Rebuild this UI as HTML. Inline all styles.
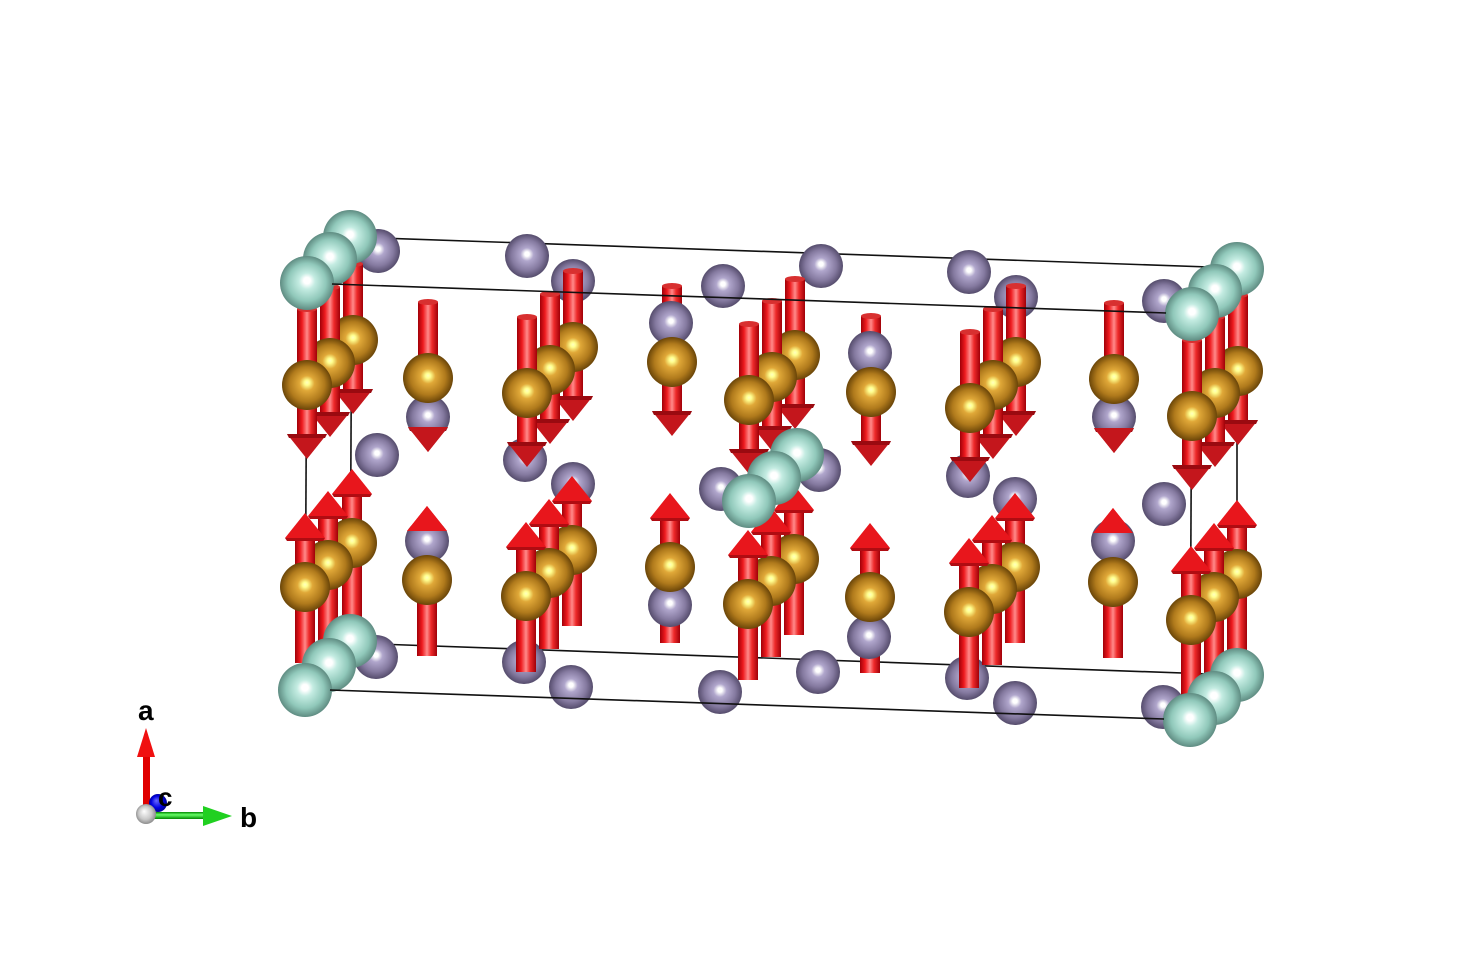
<!DOCTYPE html>
<html><head><meta charset="utf-8"><style>
html,body{margin:0;padding:0;background:#fff;}
svg{display:block;}
text{font-family:"Liberation Sans",sans-serif;font-weight:bold;fill:#000;}
</style></head><body>
<svg width="1462" height="960" viewBox="0 0 1462 960" xmlns="http://www.w3.org/2000/svg">
<defs>
<radialGradient id="gT" cx="0.5" cy="0.5" r="0.5" fx="0.5" fy="0.45">
<stop offset="0" stop-color="#ffffff"/><stop offset="0.12" stop-color="#ffffff"/><stop offset="0.3" stop-color="#c4ece2"/><stop offset="0.7" stop-color="#90c8ba"/><stop offset="1" stop-color="#5f8c82"/></radialGradient>
<radialGradient id="gP" cx="0.5" cy="0.5" r="0.5" fx="0.5" fy="0.45">
<stop offset="0" stop-color="#ffffff"/><stop offset="0.1" stop-color="#ffffff"/><stop offset="0.3" stop-color="#b0a6cc"/><stop offset="0.7" stop-color="#857aa0"/><stop offset="1" stop-color="#554c6c"/></radialGradient>
<radialGradient id="gB" cx="0.5" cy="0.5" r="0.5" fx="0.5" fy="0.45">
<stop offset="0" stop-color="#ffffc0"/><stop offset="0.1" stop-color="#ffff90"/><stop offset="0.3" stop-color="#e0a838"/><stop offset="0.7" stop-color="#b07a1c"/><stop offset="1" stop-color="#6a4508"/></radialGradient>
<radialGradient id="gW" cx="0.5" cy="0.5" r="0.55" fx="0.4" fy="0.36">
<stop offset="0" stop-color="#ffffff"/><stop offset="0.6" stop-color="#c8c8c8"/><stop offset="1" stop-color="#808080"/></radialGradient>
<radialGradient id="gBl" cx="0.5" cy="0.5" r="0.55" fx="0.4" fy="0.36">
<stop offset="0" stop-color="#6a6aff"/><stop offset="0.6" stop-color="#0000e0"/><stop offset="1" stop-color="#000080"/></radialGradient>
<linearGradient id="cyl" x1="0" y1="0" x2="1" y2="0">
<stop offset="0" stop-color="#a00008"/><stop offset="0.25" stop-color="#ee1a1e"/><stop offset="0.5" stop-color="#ff8a8a"/><stop offset="0.7" stop-color="#ee2a2a"/><stop offset="1" stop-color="#a00008"/></linearGradient>
<linearGradient id="cyg" x1="0" y1="0" x2="0" y2="1">
<stop offset="0" stop-color="#008800"/><stop offset="0.4" stop-color="#66ff66"/><stop offset="1" stop-color="#008800"/></linearGradient>
<g id="T"><circle r="27" fill="url(#gT)"/></g>
<g id="P"><circle r="22" fill="url(#gP)"/></g>
<g id="B"><circle r="25" fill="url(#gB)"/></g>
<g id="dn"><rect x="-10" y="-76" width="20" height="126" fill="url(#cyl)"/><ellipse cx="0" cy="-76" rx="10" ry="3" fill="#d83030"/><polygon points="-20,49 20,49 0,74" fill="#c4161c"/><polygon points="-20,49 20,49 18,53 -18,53" fill="#9a0a10"/></g>
<g id="dnh"><polygon points="-20,49 20,49 0,74" fill="#c4161c"/></g>
<g id="up"><rect x="-10" y="-50" width="20" height="126" fill="url(#cyl)"/><polygon points="0,-74 -20,-49 20,-49" fill="#e8161c"/><polygon points="-20,-49 20,-49 18,-46 -18,-46" fill="#b00c12"/></g>
<g id="uph"><polygon points="0,-74 -20,-49 20,-49" fill="#e8161c"/></g>
</defs>

<g stroke="#111" stroke-width="1.6" fill="none">
<line x1="352" y1="237" x2="1237" y2="268"/>
<line x1="350" y1="643" x2="1237" y2="675"/>
<line x1="352" y1="237" x2="350" y2="643"/>
<line x1="1237" y1="268" x2="1237" y2="675"/>
<line x1="307" y1="283" x2="305" y2="690"/>
<line x1="1192" y1="314" x2="1190" y2="720"/>
</g>

<use href="#P" x="378" y="251"/><use href="#P" x="527" y="256"/><use href="#P" x="573" y="281"/><use href="#P" x="723" y="286"/><use href="#P" x="821" y="266"/><use href="#P" x="969" y="272"/><use href="#P" x="1016" y="297"/><use href="#P" x="1164" y="301"/>
<use href="#P" x="377" y="455"/><use href="#P" x="525" y="460"/><use href="#P" x="573" y="484"/><use href="#P" x="721" y="489"/><use href="#P" x="819" y="470"/><use href="#P" x="968" y="476"/><use href="#P" x="1015" y="499"/><use href="#P" x="1164" y="504"/>
<use href="#P" x="376" y="657"/><use href="#P" x="524" y="662"/><use href="#P" x="571" y="687"/><use href="#P" x="720" y="692"/><use href="#P" x="818" y="672"/><use href="#P" x="967" y="678"/><use href="#P" x="1015" y="703"/><use href="#P" x="1163" y="707"/>

<use href="#dn" x="353" y="340"/><use href="#B" x="353" y="340"/><use href="#up" x="352" y="543"/><use href="#B" x="352" y="543"/>
<use href="#dn" x="330" y="363"/><use href="#B" x="330" y="363"/><use href="#up" x="328" y="565"/><use href="#B" x="328" y="565"/>
<use href="#dn" x="307" y="385"/><use href="#B" x="307" y="385"/><use href="#up" x="305" y="587"/><use href="#B" x="305" y="587"/>

<use href="#dn" x="428" y="378"/><use href="#P" x="428" y="417"/><use href="#B" x="428" y="378"/><use href="#dnh" x="428" y="378"/>
<use href="#up" x="427" y="580"/><use href="#P" x="427" y="541"/><use href="#uph" x="427" y="580"/><use href="#B" x="427" y="580"/>

<use href="#dn" x="573" y="347"/><use href="#B" x="573" y="347"/><use href="#up" x="572" y="550"/><use href="#B" x="572" y="550"/>
<use href="#dn" x="550" y="370"/><use href="#B" x="550" y="370"/><use href="#up" x="549" y="573"/><use href="#B" x="549" y="573"/>
<use href="#dn" x="527" y="393"/><use href="#B" x="527" y="393"/><use href="#up" x="526" y="596"/><use href="#B" x="526" y="596"/>

<use href="#dn" x="672" y="362"/><use href="#P" x="671" y="323"/><use href="#B" x="672" y="362"/>
<use href="#up" x="670" y="567"/><use href="#P" x="670" y="605"/><use href="#B" x="670" y="567"/>

<use href="#dn" x="795" y="355"/><use href="#B" x="795" y="355"/><use href="#up" x="794" y="559"/><use href="#B" x="794" y="559"/>
<use href="#dn" x="772" y="377"/><use href="#B" x="772" y="377"/><use href="#up" x="771" y="581"/><use href="#B" x="771" y="581"/>
<use href="#dn" x="749" y="400"/><use href="#B" x="749" y="400"/><use href="#up" x="748" y="604"/><use href="#B" x="748" y="604"/>

<use href="#dn" x="871" y="392"/><use href="#P" x="870" y="353"/><use href="#B" x="871" y="392"/>
<use href="#up" x="870" y="597"/><use href="#P" x="869" y="637"/><use href="#B" x="870" y="597"/>

<use href="#dn" x="1016" y="362"/><use href="#B" x="1016" y="362"/><use href="#up" x="1015" y="567"/><use href="#B" x="1015" y="567"/>
<use href="#dn" x="993" y="385"/><use href="#B" x="993" y="385"/><use href="#up" x="992" y="589"/><use href="#B" x="992" y="589"/>
<use href="#dn" x="970" y="408"/><use href="#B" x="970" y="408"/><use href="#up" x="969" y="612"/><use href="#B" x="969" y="612"/>

<use href="#dn" x="1114" y="379"/><use href="#P" x="1114" y="417"/><use href="#B" x="1114" y="379"/><use href="#dnh" x="1114" y="379"/>
<use href="#up" x="1113" y="582"/><use href="#P" x="1113" y="541"/><use href="#uph" x="1113" y="582"/><use href="#B" x="1113" y="582"/>

<use href="#dn" x="1238" y="371"/><use href="#B" x="1238" y="371"/><use href="#up" x="1237" y="574"/><use href="#B" x="1237" y="574"/>
<use href="#dn" x="1215" y="393"/><use href="#B" x="1215" y="393"/><use href="#up" x="1214" y="597"/><use href="#B" x="1214" y="597"/>
<use href="#dn" x="1192" y="416"/><use href="#B" x="1192" y="416"/><use href="#up" x="1191" y="620"/><use href="#B" x="1191" y="620"/>

<use href="#T" x="350" y="237"/><use href="#T" x="330" y="259"/><use href="#T" x="307" y="283"/>
<use href="#T" x="350" y="641"/><use href="#T" x="329" y="665"/><use href="#T" x="305" y="690"/>
<use href="#T" x="1237" y="269"/><use href="#T" x="1215" y="291"/><use href="#T" x="1192" y="314"/>
<use href="#T" x="1237" y="675"/><use href="#T" x="1214" y="698"/><use href="#T" x="1190" y="720"/>
<use href="#T" x="797" y="455"/><use href="#T" x="774" y="478"/><use href="#T" x="749" y="501"/>

<g stroke="#111" stroke-width="1.6" fill="none">
<line x1="332" y1="284" x2="1166" y2="313"/>
<line x1="330" y1="690" x2="1164" y2="719"/>
</g>

<rect x="143" y="755" width="7" height="59" fill="#e00000"/>
<polygon points="146,728 137,757 155,757" fill="#f01010"/>
<circle cx="158" cy="803" r="9" fill="url(#gBl)"/>
<rect x="146" y="812" width="60" height="7" fill="url(#cyg)"/>
<polygon points="232,816 203,806 203,826" fill="#20d020"/>
<circle cx="146" cy="814" r="10" fill="url(#gW)"/>
<text x="138" y="720" font-size="28">a</text>
<text x="240" y="827" font-size="28">b</text>
<text x="158" y="806" font-size="26">c</text>
</svg>
</body></html>
